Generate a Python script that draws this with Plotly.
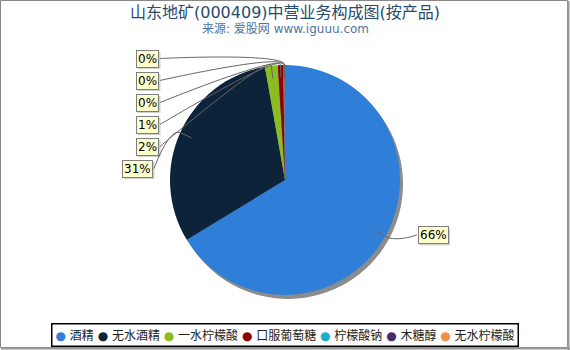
import math
import plotly.graph_objects as go

CATEGORIES = ["酒精", "无水酒精", "一水柠檬酸", "口服葡萄糖", "柠檬酸钠", "木糖醇", "无水柠檬酸"]
VALUES = [66.3, 30.9, 1.8, 0.75, 0.12, 0.08, 0.05]
COLORS = ["#2f7ed8", "#0d233a", "#8bbc21", "#910000", "#1aadce", "#492970", "#f28f43"]
TITLE = "山东地矿(000409)中营业务构成图(按产品)"
SUBTITLE = "来源: 爱股网 www.iguuu.com"

# ---- layout constants (pixels) ----
W, H = 570, 350
CX, CY, R = 285, 180, 115
SHADOW_DX, SHADOW_DY = 3, 4
FONT = "DejaVu Sans, Noto Sans CJK SC, sans-serif"

total = sum(VALUES)
fracs = [v / total for v in VALUES]
pcts = [f"{round(f * 100)}%" for f in fracs]

mids = []
acc = 0.0
for f in fracs:
    mids.append((acc + f / 2) * 2 * math.pi)
    acc += f


def pt(theta, rad):
    return CX + rad * math.sin(theta), CY - rad * math.cos(theta)


def dom(cx, cy, r):
    return dict(x=[(cx - r) / W, (cx + r) / W], y=[(H - cy - r) / H, (H - cy + r) / H])


fig = go.Figure()

# shadow pie
fig.add_trace(go.Pie(
    values=VALUES, labels=CATEGORIES, sort=False, direction="clockwise",
    marker=dict(colors=["#8c8c8c"] * len(VALUES), line=dict(width=0)),
    textinfo="none", hoverinfo="skip", showlegend=False,
    domain=dom(CX + SHADOW_DX, CY + SHADOW_DY, R),
))
# main pie
fig.add_trace(go.Pie(
    values=VALUES, labels=CATEGORIES, sort=False, direction="clockwise",
    marker=dict(colors=COLORS, line=dict(width=0)),
    textinfo="none", hoverinfo="label+percent", showlegend=False,
    domain=dom(CX, CY, R),
))
# hidden pixel axes for shapes/annotations
fig.add_trace(go.Scatter(x=[None], y=[None], mode="markers", showlegend=False, hoverinfo="skip"))

shapes = []
annotations = []

# labels
left = [i for i in range(len(VALUES)) if mids[i] >= math.pi]
right = [i for i in range(len(VALUES)) if mids[i] < math.pi]
left_sorted = sorted(left, key=lambda i: mids[i])
LEFT_BOTTOM_Y = 168.5
LEFT_STEP = 22
LEFT_RIGHT_X = [153] + [159] * 10

label_pos = {}
for k, i in enumerate(left_sorted):
    label_pos[i] = (LEFT_RIGHT_X[k], LEFT_BOTTOM_Y - k * LEFT_STEP, "right")
for i in right:
    bx, by = pt(mids[i], R)
    label_pos[i] = (CX + R + 18, by - 1.5, "left")


def approx_w(s):
    return sum(11.4 if ch == "%" else 7.6 for ch in s) + 4


for i in range(len(VALUES)):
    lx, ly, side = label_pos[i]
    ax, ay = pt(mids[i], R * 0.89)
    bx, by = pt(mids[i], R)
    sx = lx + (1 if side == "right" else -1)
    c2x, c2y = 2 * bx - ax, 2 * by - ay
    path = f"M {sx:.2f},{ly:.2f} C {sx:.2f},{ly:.2f} {c2x:.2f},{c2y:.2f} {bx:.2f},{by:.2f} L {ax:.2f},{ay:.2f}"
    shapes.append(dict(type="path", xref="x", yref="y", path=path,
                       line=dict(color="#666666", width=1), layer="above"))
    # soft shadow for label box
    bw = approx_w(pcts[i])
    x0 = lx - bw if side == "right" else lx
    shapes.append(dict(type="rect", xref="x", yref="y",
                       x0=x0 + 1.5, x1=x0 + bw + 1.5, y0=ly - 8 + 1.5, y1=ly + 9 + 1.5,
                       line=dict(width=0), fillcolor="rgba(0,0,0,0.18)", layer="above"))
    annotations.append(dict(
        x=lx, y=ly, xref="x", yref="y", xanchor=side, yanchor="middle",
        text=pcts[i], showarrow=False,
        font=dict(family=FONT, size=12, color="#000000"),
        bgcolor="#ffffcc", bordercolor="#7f7f7f", borderwidth=1, borderpad=1,
    ))

# title / subtitle
annotations.append(dict(x=CX, y=12, xref="x", yref="y", xanchor="center", yanchor="middle",
                        text=TITLE, showarrow=False,
                        font=dict(family=FONT, size=16, color="#274b6d")))
annotations.append(dict(x=CX, y=28.5, xref="x", yref="y", xanchor="center", yanchor="middle",
                        text=SUBTITLE, showarrow=False,
                        font=dict(family=FONT, size=12, color="#4d759e")))

# legend as text
legend_text = " ".join(
    f"<span style='color:{c}'>●</span> {n}" for n, c in zip(CATEGORIES, COLORS)
)
annotations.append(dict(x=CX, y=335, xref="x", yref="y", xanchor="center", yanchor="middle",
                        text=legend_text, showarrow=False,
                        font=dict(family=FONT, size=12, color="#222222"),
                        bgcolor="#ffffff", bordercolor="#000000", borderwidth=1.5, borderpad=3))

# outer frame
shapes.append(dict(type="rect", xref="x", yref="y", x0=0.5, y0=0.5, x1=W - 2.5, y1=H - 2.5,
                   line=dict(color="#888888", width=1), layer="above"))
shapes.append(dict(type="line", xref="x", yref="y", x0=W - 1.5, y0=1, x1=W - 1.5, y1=H,
                   line=dict(color="#999999", width=2), layer="above"))
shapes.append(dict(type="line", xref="x", yref="y", x0=1, y0=H - 1.5, x1=W, y1=H - 1.5,
                   line=dict(color="#999999", width=2), layer="above"))

fig.update_layout(
    width=W, height=H,
    margin=dict(l=0, r=0, t=0, b=0),
    paper_bgcolor="#ffffff", plot_bgcolor="rgba(0,0,0,0)",
    xaxis=dict(range=[0, W], visible=False, fixedrange=True, domain=[0, 1]),
    yaxis=dict(range=[H, 0], visible=False, fixedrange=True, domain=[0, 1]),
    shapes=shapes, annotations=annotations, showlegend=False,
    font=dict(family=FONT),
)

fig.write_html("out.html", config={"displayModeBar": False})
